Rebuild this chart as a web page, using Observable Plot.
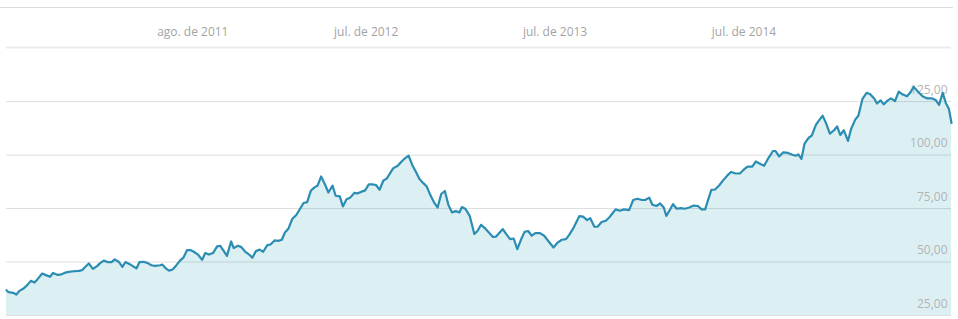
<!DOCTYPE html>
<html>
<head>
<meta charset="utf-8">
<script src="https://cdn.jsdelivr.net/npm/d3@7"></script>
<script src="https://cdn.jsdelivr.net/npm/@observablehq/plot@0.6"></script>
<style>
  html, body { margin: 0; padding: 0; background: #fff; }
  #wrap { position: relative; width: 958px; height: 319px; overflow: hidden; }
  #topline { position: absolute; left: 0; top: 7px; width: 953px; height: 1px; background: #dcdcdc; }
  #chart svg { display: block; }
</style>
</head>
<body>
<div id="wrap"><div id="chart"></div><div id="topline"></div></div>
<script>
const dates = [
"2010-08-06","2010-08-10","2010-08-19","2010-08-25","2010-08-31","2010-09-08","2010-09-15","2010-09-22","2010-09-29","2010-10-05",
"2010-10-14","2010-10-20","2010-10-29","2010-11-04","2010-11-12","2010-11-18","2010-11-26","2010-12-04","2010-12-14","2010-12-24",
"2010-12-30","2011-01-05","2011-01-12","2011-01-20","2011-01-28","2011-02-03","2011-02-10","2011-02-17","2011-02-25","2011-03-03",
"2011-03-11","2011-03-18","2011-03-24","2011-04-01","2011-04-07","2011-04-14","2011-04-20","2011-04-28","2011-05-06","2011-05-13",
"2011-05-20","2011-05-30","2011-06-03","2011-06-10","2011-06-16","2011-06-23","2011-06-30","2011-07-08","2011-07-14","2011-07-21",
"2011-07-27","2011-08-03","2011-08-11","2011-08-19","2011-08-25","2011-09-01","2011-09-09","2011-09-17","2011-09-23","2011-09-30",
"2011-10-06","2011-10-14","2011-10-19","2011-10-27","2011-11-02","2011-11-10","2011-11-18","2011-11-24","2011-12-01","2011-12-08",
"2011-12-15","2011-12-23","2011-12-29","2012-01-06","2012-01-13","2012-01-20","2012-01-26","2012-02-02","2012-02-09","2012-02-17",
"2012-02-24","2012-03-02","2012-03-09","2012-03-16","2012-03-23","2012-03-29","2012-04-05","2012-04-12","2012-04-19","2012-04-27",
"2012-05-03","2012-05-11","2012-05-17","2012-05-24","2012-05-31","2012-06-08","2012-06-14","2012-06-22","2012-06-29","2012-07-06",
"2012-07-13","2012-07-20","2012-07-27","2012-08-03","2012-08-10","2012-08-22","2012-08-31","2012-09-07","2012-09-14","2012-09-21",
"2012-09-28","2012-10-05","2012-10-12","2012-10-19","2012-10-26","2012-11-02","2012-11-09","2012-11-16","2012-11-23","2012-11-30",
"2012-12-07","2012-12-14","2012-12-21","2012-12-28","2013-01-02","2013-01-09","2013-01-17","2013-01-26","2013-02-01","2013-02-08",
"2013-02-16","2013-02-23","2013-03-03","2013-03-09","2013-03-16","2013-03-22","2013-03-29","2013-04-05","2013-04-12","2013-04-19",
"2013-04-26","2013-05-03","2013-05-10","2013-05-17","2013-05-24","2013-06-02","2013-06-10","2013-06-19","2013-06-28","2013-07-06",
"2013-07-14","2013-07-22","2013-07-28","2013-08-05","2013-08-17","2013-08-24","2013-09-01","2013-09-07","2013-09-15","2013-09-21",
"2013-09-29","2013-10-07","2013-10-15","2013-10-20","2013-10-26","2013-11-03","2013-11-11","2013-11-21","2013-11-29","2013-12-07",
"2013-12-16","2013-12-22","2013-12-30","2014-01-05","2014-01-13","2014-01-20","2014-01-27","2014-02-01","2014-02-09","2014-02-14",
"2014-02-21","2014-03-01","2014-03-09","2014-03-17","2014-03-26","2014-04-03","2014-04-10","2014-04-17","2014-04-22","2014-04-29",
"2014-05-06","2014-05-14","2014-05-22","2014-05-30","2014-06-06","2014-06-15","2014-06-23","2014-07-01","2014-07-08","2014-07-17",
"2014-07-24","2014-07-31","2014-08-09","2014-08-17","2014-08-26","2014-08-31","2014-09-07","2014-09-15","2014-09-24","2014-10-01",
"2014-10-09","2014-10-14","2014-10-20","2014-10-26","2014-11-03","2014-11-09","2014-11-17","2014-11-23","2014-11-30","2014-12-06",
"2014-12-14","2014-12-22","2014-12-28","2015-01-03","2015-01-10","2015-01-18","2015-01-24","2015-02-01","2015-02-07","2015-02-15",
"2015-02-23","2015-03-02","2015-03-10","2015-03-15","2015-03-22","2015-03-28","2015-04-05","2015-04-11","2015-04-19","2015-04-26",
"2015-05-03","2015-05-12","2015-05-18","2015-05-25","2015-06-02","2015-06-11","2015-06-20","2015-06-30","2015-07-07","2015-07-13",
"2015-07-20","2015-07-26","2015-08-01","2015-08-06"
];
const values = [
36.8,35.9,35.6,34.8,36.5,37.6,39.2,41.2,40.4,42.0,
44.6,44.0,43.1,44.9,44.0,44.1,44.9,45.4,45.7,45.9,
46.2,47.7,49.3,46.8,48.1,49.5,50.7,50.0,50.0,51.2,
50.1,47.7,50.0,49.0,48.1,47.0,50.0,50.1,49.5,48.5,
48.2,48.5,48.8,47.0,46.0,46.5,48.4,50.9,52.1,55.6,
55.6,54.8,53.5,51.0,54.2,53.5,54.2,57.3,57.6,55.1,
52.9,59.6,56.5,57.6,57.1,54.9,53.5,52.0,55.1,55.8,
54.8,57.9,58.2,60.1,59.9,60.4,63.8,65.7,70.1,72.0,
74.8,77.6,78.0,83.3,84.9,85.7,90.0,86.5,82.5,85.7,
81.0,80.7,76.0,79.4,80.1,82.3,82.1,82.9,83.5,86.3,
86.3,86.0,83.8,88.0,89.1,93.8,95.0,96.9,98.5,99.7,
95.4,92.2,88.8,87.0,85.3,81.3,77.9,75.5,81.8,83.2,
76.6,73.2,73.8,73.2,75.7,74.8,71.6,63.1,64.5,67.4,
65.7,63.8,61.7,61.9,63.8,65.4,62.9,60.7,61.0,56.0,
60.4,64.1,64.5,62.3,63.5,63.5,62.3,59.5,56.8,59.1,
60.4,60.7,62.6,65.7,71.5,71.2,69.6,70.5,66.5,66.5,
68.7,69.3,71.2,72.8,74.6,74.0,74.6,74.3,79.0,79.6,
79.0,79.0,80.1,76.8,76.2,77.4,75.5,71.6,74.9,77.1,
74.9,75.2,74.9,75.5,76.4,76.2,74.6,74.6,78.6,83.7,
83.9,85.8,88.3,90.5,92.1,91.4,91.4,93.3,94.6,94.6,
97.0,96.1,95.0,98.5,101.9,101.9,99.4,101.3,101.0,100.3,
99.7,100.3,98.2,105.3,108.1,109.1,114.1,116.2,118.4,115.3,
110.0,111.6,113.4,109.4,111.6,106.6,112.2,116.6,118.4,126.3,
129.1,128.4,126.3,124.1,125.6,123.7,125.6,126.5,125.3,129.7,
128.4,127.5,129.1,131.9,129.7,127.5,126.5,126.5,125.6,123.5,
129.1,124.4,121.6,115.0
];
const xTickDates = ["2011-08-01","2012-07-01","2013-07-01","2014-07-01"];
const xTickLabels = ["ago. de 2011","jul. de 2012","jul. de 2013","jul. de 2014"];
const yTicks = [25, 50, 75, 100, 125];
const xDomain = ["2010-08-06","2015-08-06"];
const yDomain = [25, 150.3];

const data = dates.map((d, i) => ({date: new Date(d), value: values[i]}));
const xTicks = xTickDates.map((d, i) => ({date: new Date(d), label: xTickLabels[i]}));
const xEnd = new Date(xDomain[1]);
const fmt = v => v.toFixed(2).replace(".", ",");
const font = "'Open Sans', 'Noto Sans', sans-serif";

const chart = Plot.plot({
  width: 958,
  height: 319,
  marginTop: 47,
  marginBottom: 4,
  marginLeft: 6,
  marginRight: 7,
  style: {fontFamily: font, background: "#fff", overflow: "hidden"},
  x: {type: "utc", domain: xDomain.map(d => new Date(d)), axis: null},
  y: {domain: yDomain, axis: null},
  marks: [
    Plot.areaY(data, {x: "date", y1: yDomain[0], y2: "value", fill: "#dcf0f4"}),
    Plot.ruleY(yTicks, {stroke: "#000", strokeOpacity: 0.13}),
    Plot.ruleY([yDomain[1]], {stroke: "#ebebeb", strokeWidth: 2}),
    Plot.text(yTicks, {x: () => xEnd, y: d => d, text: fmt, textAnchor: "end", dx: -4, dy: -11.5,
      fill: "#b3b3b3", fontSize: 12}),
    Plot.text(xTicks, {x: "date", text: "label", frameAnchor: "top", dy: -20, fill: "#a3a3a3", fontSize: 12}),
    Plot.line(data, {x: "date", y: "value", stroke: "#2a8db1", strokeWidth: 2.2, strokeLinejoin: "round"})
  ]
});
document.getElementById("chart").append(chart);
</script>
</body>
</html>
